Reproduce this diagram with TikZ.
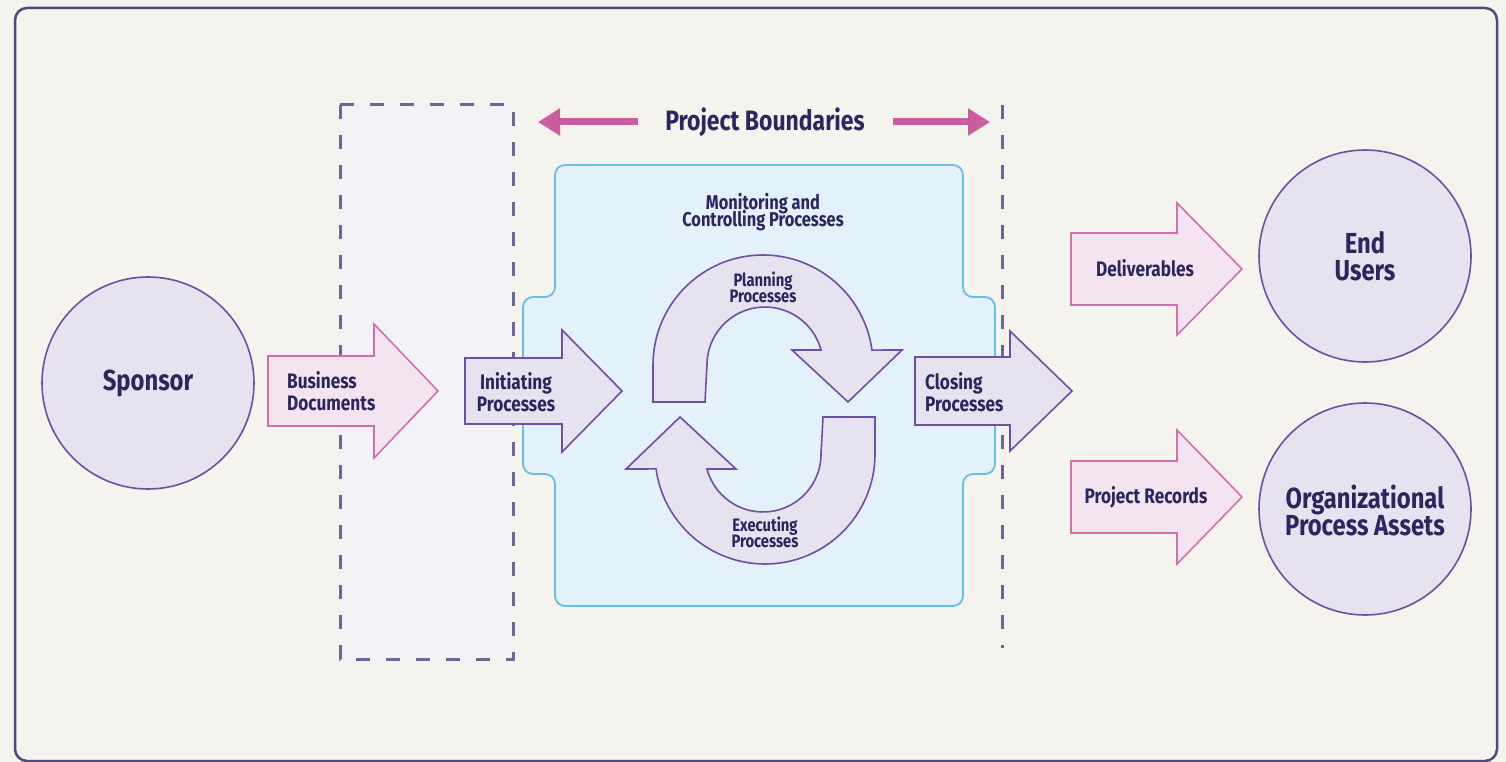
\documentclass[tikz,border=0pt]{standalone}
\usepackage{fontspec}
\setmainfont{Fira Sans}[FakeStretch=0.82]
\usetikzlibrary{arrows.meta}
\definecolor{bgc}{HTML}{F5F3EE}
\definecolor{framec}{HTML}{4E4A7C}
\definecolor{txt}{HTML}{2B2560}
\definecolor{pinkd}{HTML}{D46FAE}
\definecolor{pinkf}{HTML}{F4E4EF}
\definecolor{pinkb}{HTML}{C95D9F}
\definecolor{purd}{HTML}{6D4FA3}
\definecolor{purf}{HTML}{E6E2EF}
\definecolor{blued}{HTML}{62C0EA}
\definecolor{bluef}{HTML}{E3F1FA}
\definecolor{dashd}{HTML}{6F6698}
\definecolor{dashf}{HTML}{F3F2F7}
\newcommand\tightls{\lineskiplimit=-20pt\relax}
\newcommand\fatarrow[7]{\draw[#7] (#1,#4-#5) -- (#2,#4-#5) -- (#2,#4-#6) -- (#3,#4) -- (#2,#4+#6) -- (#2,#4+#5) -- (#1,#4+#5) -- cycle;}
\newcommand\cyclearrow{(653,402) -- (653,365) arc[start angle=180, end angle=352.2, radius=110] -- (902,350) -- (848,402) -- (792,350) -- (821,350) arc[start angle=345, end angle=180, radius=58] -- (705,402) -- cycle}
\tikzset{
  pinkarrow/.style={draw=pinkd, fill=pinkf, line width=1.6pt},
  purarrow/.style={draw=purd, fill=purf, line width=1.6pt},
  bigcircle/.style={circle, draw=purd, fill=purf, line width=1.6pt, minimum size=212pt, inner sep=0pt},
  lbl/.style={text=txt, font={\bfseries\fontsize{21}{22}\selectfont\tightls}, inner sep=0pt},
  biglbl/.style={text=txt, font={\bfseries\fontsize{29}{27}\selectfont\tightls}, align=center, inner sep=0pt},
  dashline/.style={draw=dashd, line width=3pt, dash pattern=on 14pt off 16pt},
  pbarrow/.style={draw=pinkb, line width=7pt, -{Triangle[length=22pt, width=26pt]}}
}
\begin{document}
\begin{tikzpicture}[x=1pt,y=-1pt]
\useasboundingbox (0,0) rectangle (1506,762);
\fill[bgc] (0,0) rectangle (1506,762);
\draw[framec, line width=2.5pt, rounded corners=12pt] (15,8) rectangle (1497,761);
% dashed box
\fill[dashf] (340,105) rectangle (513,659);
\draw[dashline] (340,105) -- (340,659) -- (513,659) -- (513,105) -- cycle;
\coordinate (rdTop) at (1002,105);
\coordinate (rdBot) at (1002,648);
\draw[dashline] (rdTop) -- (rdBot);
% project boundaries
\node[text=txt, font=\bfseries\fontsize{28}{28}\selectfont, inner sep=0pt] (pb) at (765,122) {Project Boundaries};
\coordinate (pbL1) at (638,122);
\coordinate (pbL2) at (538,122);
\coordinate (pbR1) at (893,122);
\coordinate (pbR2) at (990,122);
\draw[pbarrow] (pbL1) -- (pbL2);
\draw[pbarrow] (pbR1) -- (pbR2);
% blue box
\draw[draw=blued, fill=bluef, line width=1.8pt, rounded corners=10pt]
  (555,165) -- (963,165) -- (963,297) -- (995,297) -- (995,474) -- (963,474) -- (963,606) -- (555,606) -- (555,474) -- (523,474) -- (523,297) -- (555,297) -- cycle;
\node[lbl, font={\bfseries\fontsize{20}{17}\selectfont\tightls}, align=center] (mc) at (763,212) {Monitoring and\\Controlling Processes};
% cycle arrows
\draw[purarrow] \cyclearrow;
\draw[purarrow, rotate around={180:(764,409.5)}] \cyclearrow;
\node[lbl, font={\bfseries\fontsize{18}{16}\selectfont\tightls}, align=center] (plan) at (763,287) {Planning\\Processes};
\node[lbl, font={\bfseries\fontsize{18}{16}\selectfont\tightls}, align=center] (exec) at (765,532) {Executing\\Processes};
% circles
\node[bigcircle] (sponsor) at (148,383) {};
\node[biglbl] (sponsorT) at (148,383) {Sponsor};
\node[bigcircle] (endusers) at (1365,256) {};
\node[biglbl] (endusersT) at (1365,256) {End\\Users};
\node[bigcircle] (opa) at (1365,509) {};
\node[biglbl] (opaT) at (1365,510) {Organizational\\Process Assets};
% block arrows
\fatarrow{268}{374}{438}{391}{35}{67}{pinkarrow}
\fatarrow{465}{562}{622}{391}{33}{61}{purarrow}
\fatarrow{915}{1010}{1072}{391}{34}{60}{purarrow}
\fatarrow{1071}{1177}{1242}{269}{36}{66}{pinkarrow}
\fatarrow{1071}{1177}{1242}{497}{36}{67}{pinkarrow}
\node[lbl, align=left, anchor=west] (bd) at (287,391) {Business\\Documents};
\node[lbl, align=center] (ip) at (516,392) {Initiating\\Processes};
\node[lbl, align=left, anchor=west] (cp) at (925,392) {Closing\\Processes};
\node[lbl] (del) at (1145,268) {Deliverables};
\node[lbl] (pr) at (1146,497) {Project Records};
\end{tikzpicture}
\end{document}
